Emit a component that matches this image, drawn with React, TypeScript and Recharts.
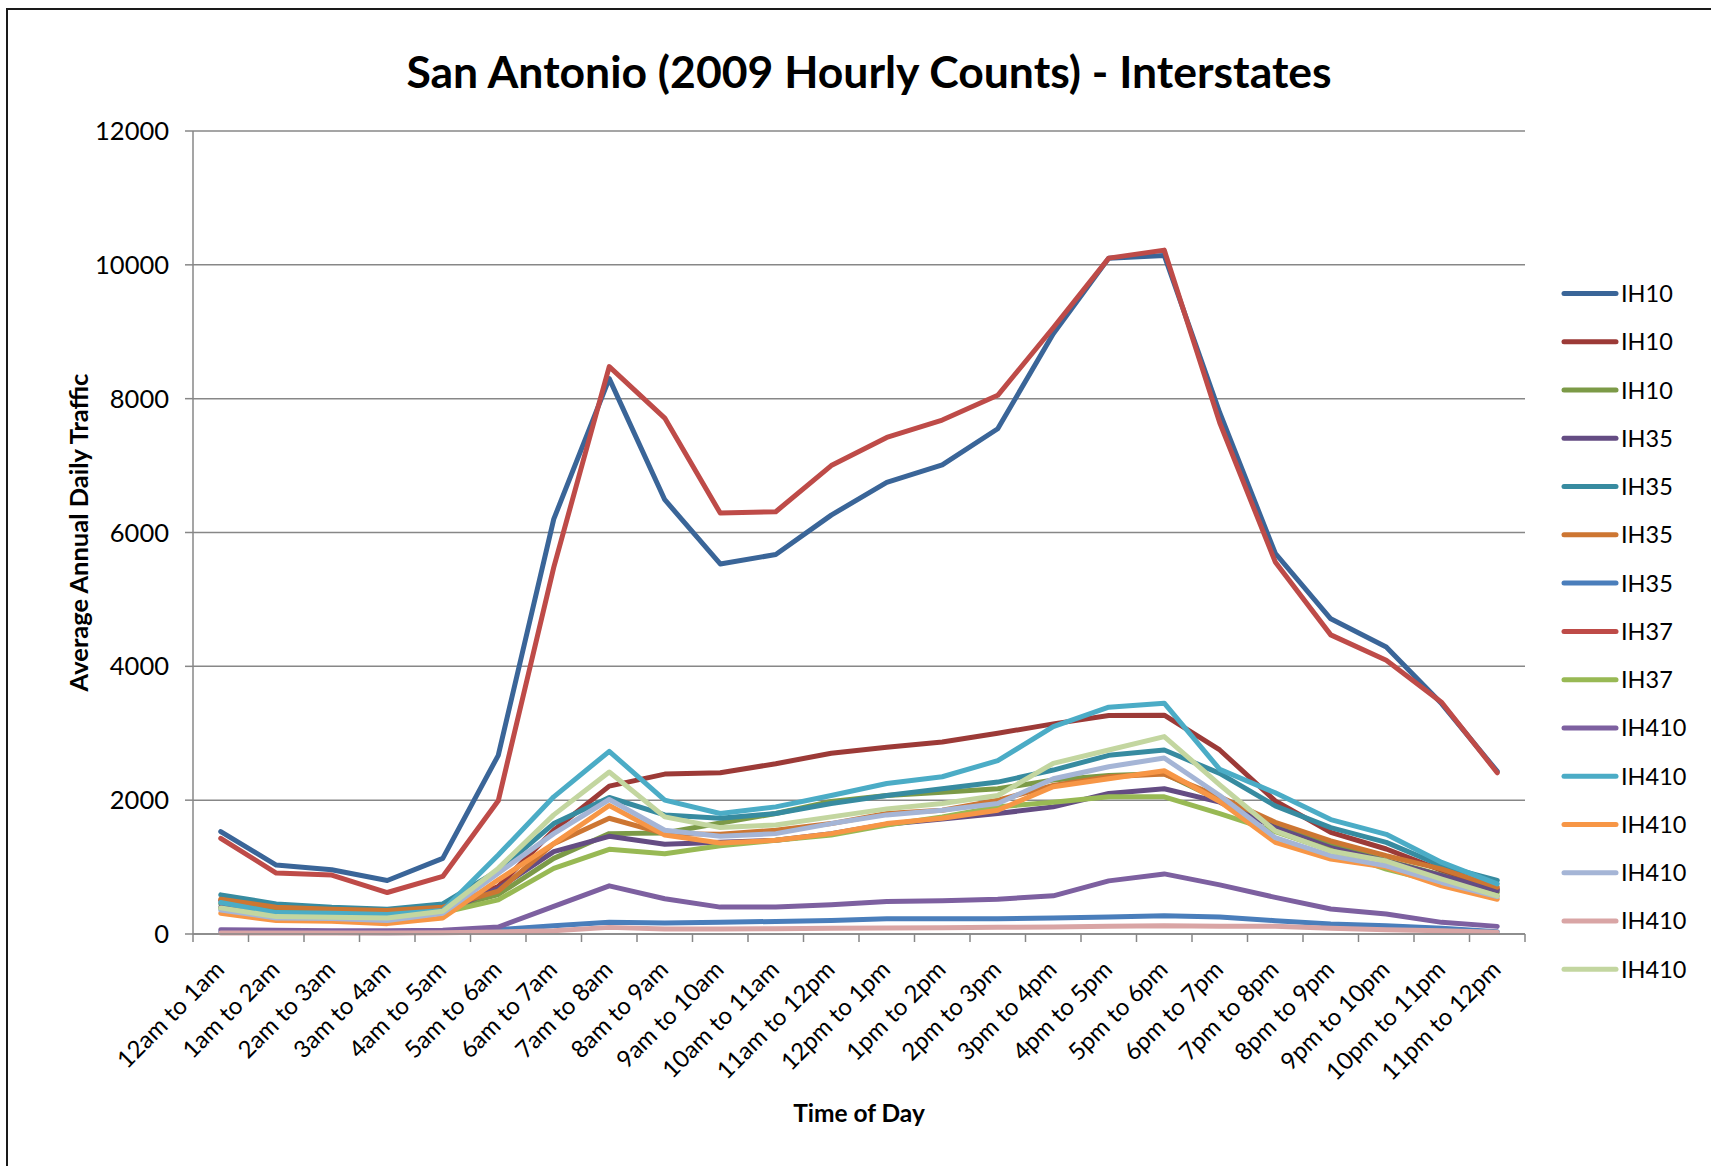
import React from 'react'
import { LineChart, Line, XAxis, YAxis, CartesianGrid, Legend } from 'recharts'

const hours = [
  '12am to 1am', '1am to 2am', '2am to 3am', '3am to 4am', '4am to 5am', '5am to 6am',
  '6am to 7am', '7am to 8am', '8am to 9am', '9am to 10am', '10am to 11am', '11am to 12pm',
  '12pm to 1pm', '1pm to 2pm', '2pm to 3pm', '3pm to 4pm', '4pm to 5pm', '5pm to 6pm',
  '6pm to 7pm', '7pm to 8pm', '8pm to 9pm', '9pm to 10pm', '10pm to 11pm', '11pm to 12pm',
]
const yTicks = [0, 2000, 4000, 6000, 8000, 10000, 12000]

// hourly volumes, one array per count station
const ih10a = [1530, 1030, 960, 800, 1130, 2670, 6200, 8300, 6490, 5530, 5670, 6260, 6750, 7010, 7550, 8970, 10100, 10140, 7790, 5690, 4710, 4290, 3440, 2430]
const ih10b = [500, 390, 350, 330, 400, 710, 1550, 2210, 2390, 2410, 2545, 2700, 2790, 2870, 3000, 3140, 3265, 3270, 2750, 1990, 1520, 1270, 950, 670]
const ih10c = [450, 340, 310, 290, 370, 590, 1130, 1500, 1510, 1660, 1800, 1980, 2070, 2120, 2170, 2300, 2370, 2400, 2000, 1620, 1330, 1100, 880, 620]
const ih35a = [400, 300, 270, 250, 330, 680, 1230, 1460, 1340, 1370, 1400, 1500, 1640, 1720, 1800, 1900, 2100, 2170, 1970, 1590, 1290, 1090, 870, 650]
const ih35b = [585, 450, 400, 370, 450, 950, 1650, 2040, 1780, 1730, 1800, 1950, 2070, 2170, 2270, 2450, 2670, 2750, 2400, 1915, 1590, 1370, 1020, 800]
const ih35c = [520, 400, 370, 350, 400, 640, 1350, 1730, 1500, 1490, 1550, 1650, 1800, 1850, 2000, 2220, 2350, 2390, 2050, 1670, 1390, 1170, 970, 700]
const ih35d = [30, 25, 22, 20, 25, 64, 124, 174, 164, 174, 188, 203, 228, 228, 228, 238, 253, 273, 253, 199, 149, 124, 85, 35]
const ih37a = [1430, 910, 880, 620, 860, 1990, 5480, 8480, 7710, 6290, 6310, 7000, 7420, 7680, 8050, 9060, 10100, 10220, 7640, 5560, 4470, 4090, 3460, 2410]
const ih37b = [380, 270, 250, 230, 320, 510, 980, 1265, 1200, 1320, 1400, 1480, 1630, 1750, 1900, 1970, 2050, 2050, 1800, 1530, 1250, 970, 760, 570]
const ih410a = [64, 55, 50, 50, 55, 104, 412, 720, 526, 402, 402, 437, 486, 496, 521, 570, 794, 898, 734, 547, 373, 298, 174, 114]
const ih410b = [470, 320, 310, 290, 350, 1180, 2050, 2730, 2000, 1800, 1900, 2070, 2250, 2350, 2590, 3100, 3390, 3450, 2460, 2110, 1710, 1490, 1070, 750]
const ih410c = [310, 200, 190, 155, 240, 810, 1350, 1920, 1480, 1360, 1400, 1500, 1650, 1730, 1850, 2200, 2320, 2440, 1980, 1370, 1120, 1000, 720, 520]
const ih410d = [360, 240, 230, 200, 310, 910, 1500, 2010, 1550, 1460, 1500, 1650, 1780, 1850, 1950, 2320, 2500, 2630, 2070, 1440, 1170, 1020, 770, 560]
const ih410e = [15, 15, 15, 15, 20, 30, 50, 99, 74, 74, 80, 85, 90, 95, 100, 105, 115, 125, 115, 114, 85, 65, 50, 25]
const ih410f = [390, 260, 250, 240, 340, 980, 1780, 2420, 1750, 1590, 1630, 1750, 1870, 1950, 2070, 2550, 2750, 2950, 2230, 1540, 1240, 1090, 820, 570]

const series = [
  { key: 'ih10a', name: 'IH10', color: '#3A6598', values: ih10a },
  { key: 'ih10b', name: 'IH10', color: '#9C3A37', values: ih10b },
  { key: 'ih10c', name: 'IH10', color: '#7C9A47', values: ih10c },
  { key: 'ih35a', name: 'IH35', color: '#644C83', values: ih35a },
  { key: 'ih35b', name: 'IH35', color: '#378BA0', values: ih35b },
  { key: 'ih35c', name: 'IH35', color: '#CD7632', values: ih35c },
  { key: 'ih35d', name: 'IH35', color: '#4A7EBB', values: ih35d },
  { key: 'ih37a', name: 'IH37', color: '#BE4B48', values: ih37a },
  { key: 'ih37b', name: 'IH37', color: '#98B954', values: ih37b },
  { key: 'ih410a', name: 'IH410', color: '#7D60A0', values: ih410a },
  { key: 'ih410b', name: 'IH410', color: '#4BACC6', values: ih410b },
  { key: 'ih410c', name: 'IH410', color: '#F79646', values: ih410c },
  { key: 'ih410d', name: 'IH410', color: '#A5B5D6', values: ih410d },
  { key: 'ih410e', name: 'IH410', color: '#D9A5A5', values: ih410e },
  { key: 'ih410f', name: 'IH410', color: '#C3D6A0', values: ih410f },
]

const rows = hours.map((hour, i) => {
  const row: Record<string, string | number> = { hour }
  series.forEach((s) => { row[s.key] = s.values[i] })
  return row
})

const W = 1711
const H = 1166
const PLOT_LEFT = 193
const PLOT_RIGHT = 1525
const PLOT_TOP = 131
const PLOT_BOTTOM = 934
const STEP = (PLOT_RIGHT - PLOT_LEFT) / hours.length
const FONT = 'Lato, "Open Sans", sans-serif'
const GRID = '#878787'

function HourTick(props: any) {
  const { x, y, payload, index } = props
  const left = x - STEP / 2
  const right = x + STEP / 2
  const tx = x + 5
  const ty = y + 37
  return (
    <g>
      <line x1={left} x2={left} y1={y} y2={y + 8} stroke={GRID} strokeWidth={1.5} />
      {index === hours.length - 1 && (
        <line x1={right} x2={right} y1={y} y2={y + 8} stroke={GRID} strokeWidth={1.5} />
      )}
      <text
        x={tx}
        y={ty}
        transform={`rotate(-45 ${tx} ${ty})`}
        textAnchor="end"
        fontFamily={FONT}
        fontSize={24}
        fill="#000"
      >
        {payload.value}
      </text>
    </g>
  )
}

function LegendBox() {
  return (
    <svg width={150} height={740} style={{ display: 'block', overflow: 'visible' }}>
      {series.map((s, i) => {
        const cy = 33.5 + i * 48.27
        return (
          <g key={s.key}>
            <line x1={6} x2={58} y1={cy} y2={cy} stroke={s.color} strokeWidth={5} strokeLinecap="round" />
            <text x={63} y={cy} dy="0.36em" fontFamily={FONT} fontSize={23.5} fill="#000">{s.name}</text>
          </g>
        )
      })}
    </svg>
  )
}

export default function App() {
  return (
    <div style={{ position: 'fixed', left: 0, top: 0, width: W, height: H, overflow: 'hidden', background: '#fff' }}>
      <div style={{ position: 'absolute', left: 6, top: 8, width: W + 100, height: H + 100, border: '2px solid #1a1a1a', boxSizing: 'border-box' }} />
      <svg width={W} height={120} style={{ position: 'absolute', left: 0, top: 0 }}>
        <text x={869} y={88} textAnchor="middle" fontFamily={FONT} fontWeight={700} fontSize={44.5} fill="#000">
          San Antonio (2009 Hourly Counts) - Interstates
        </text>
      </svg>
      <div style={{ position: 'absolute', left: 0, top: 0 }}>
        <LineChart
          width={W}
          height={H}
          data={rows}
          margin={{ top: PLOT_TOP, right: W - PLOT_RIGHT, bottom: 0, left: 0 }}
        >
          <CartesianGrid vertical={false} stroke={GRID} strokeWidth={1.5} />
          <XAxis
            dataKey="hour"
            height={H - PLOT_BOTTOM}
            interval={0}
            padding={{ left: STEP / 2, right: STEP / 2 }}
            tickSize={0}
            tickMargin={0}
            tickLine={false}
            axisLine={{ stroke: GRID, strokeWidth: 1.5 }}
            tick={<HourTick />}
            label={{
              content: ({ viewBox }: any) => (
                <text
                  x={viewBox.x + viewBox.width / 2}
                  y={1122}
                  textAnchor="middle"
                  fontFamily={FONT}
                  fontWeight={700}
                  fontSize={24.5}
                  fill="#000"
                >
                  Time of Day
                </text>
              ),
            }}
          />
          <YAxis
            width={PLOT_LEFT}
            domain={[0, 12000]}
            ticks={yTicks}
            interval={0}
            tickSize={8}
            tickMargin={16}
            tickLine={{ stroke: GRID, strokeWidth: 1.5 }}
            axisLine={{ stroke: GRID, strokeWidth: 1.5 }}
            tick={{ fontFamily: FONT, fontSize: 25.5, fill: '#000' }}
            label={{
              content: ({ viewBox }: any) => {
                const cx = 78
                const cy = viewBox.y + viewBox.height / 2
                return (
                  <text
                    x={cx}
                    y={cy}
                    transform={`rotate(-90 ${cx} ${cy})`}
                    textAnchor="middle"
                    dominantBaseline="central"
                    fontFamily={FONT}
                    fontWeight={700}
                    fontSize={25.5}
                    fill="#000"
                  >
                    Average Annual Daily Traffic
                  </text>
                )
              },
            }}
          />
          <Legend
            layout="vertical"
            align="center"
            verticalAlign="middle"
            wrapperStyle={{ left: 1558, top: 260, width: 150 }}
            content={() => <LegendBox />}
          />
          {series.map((s) => (
            <Line
              key={s.key}
              type="linear"
              dataKey={s.key}
              name={s.name}
              stroke={s.color}
              strokeWidth={5}
              strokeLinejoin="round"
              strokeLinecap="round"
              dot={false}
              activeDot={false}
              isAnimationActive={false}
            />
          ))}
        </LineChart>
      </div>
    </div>
  )
}
